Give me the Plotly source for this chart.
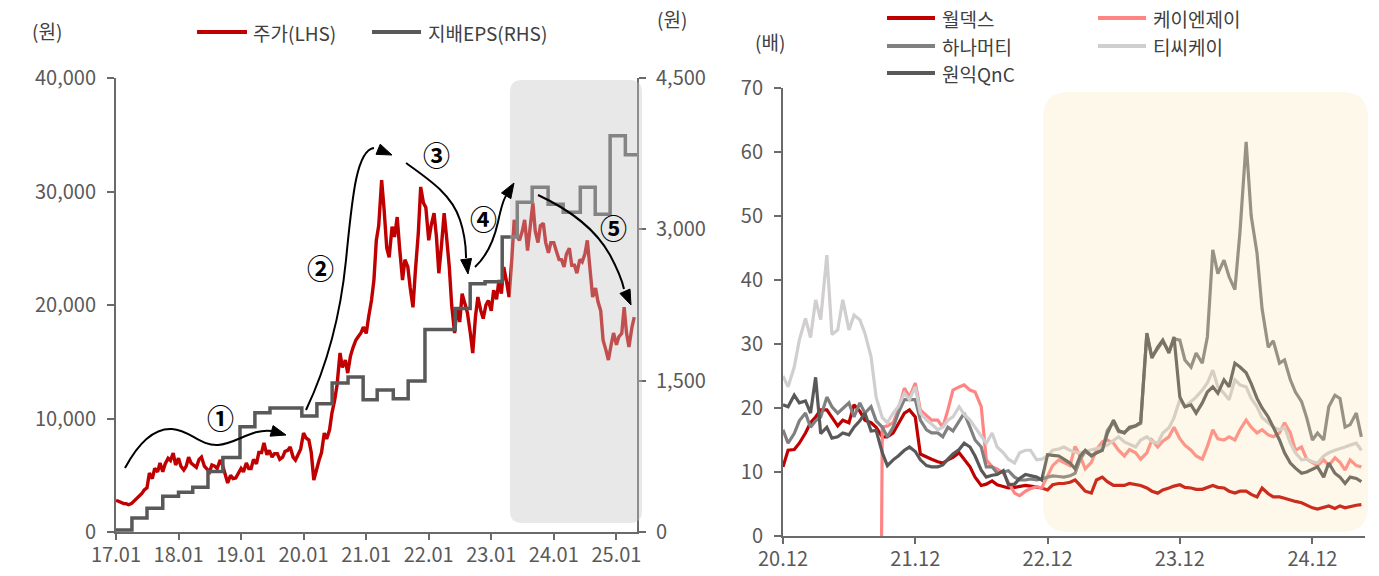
import pandas as pd
import plotly.graph_objects as go

W, H = 1379, 576
FONT = "Noto Sans CJK KR"
AXIS_GRAY = "#6a6a6a"
TEXT_GRAY = "#595959"

# ---------------- left panel: share price (LHS) and controlling EPS (RHS) ----------------
# semi-monthly closes, KRW, from 2017-01 to 2025-04
price = [
    2800, 2700, 2600, 2500, 2500, 2400, 2500, 2700, 2900, 3100, 3400, 3700,
    3900, 5200, 4700, 5600, 5300, 6080, 5300, 6000, 6500, 6300, 6960, 5900,
    6500, 5800, 5460, 5800, 6600, 6080, 5900, 5700, 6400, 6600, 5800, 5600,
    5290, 5900, 5800, 5600, 6340, 5900, 5100, 4320, 5000, 4700, 4760, 5200,
    5600, 5300, 6080, 5600, 5600, 6400, 6000, 7000, 7000, 7840, 6800, 7200,
    6600, 6900, 6900, 6400, 6600, 7100, 7200, 7490, 6600, 6340, 6800, 7300,
    8720, 8300, 8100, 7000, 4580, 5500, 6340, 7000, 8720, 8200, 9000, 10500,
    11630, 13000, 15770, 14500, 15150, 14000, 15500, 16200, 16900, 17200, 17530, 18060,
    17500, 18940, 20440, 22200, 25700, 27000, 31000, 28500, 25000, 24200, 26900, 26000,
    27750, 25000, 22200, 24000, 23350, 21500, 19800, 23000, 26300, 30400, 29000, 28600,
    25700, 27000, 28100, 26000, 22800, 25000, 28100, 26000, 23350, 20000, 17530, 19800,
    18500, 21000, 20000, 19300, 17500, 15770, 19000, 20700, 19500, 18800, 20000, 20400,
    19500, 21300, 20500, 22200, 21000, 23350, 22000, 20700, 24000, 27500, 26000, 25700,
    26500, 27500, 24800, 27000, 29000, 26500, 25500, 27000, 27200, 25500, 24600, 25500,
    25500, 24800, 24000, 24000, 23350, 24500, 25000, 23500, 23500, 22800, 24000, 23800,
    24500, 25700, 23000, 20700, 21500, 20300, 19500, 16900, 16000, 15150, 16500, 17530,
    16500, 17200, 17500, 19800, 17500, 16300, 18000, 18940,
]
price_dates = pd.date_range("2017-01-01", periods=len(price), freq="SMS")

# controlling-interest EPS (KRW), value in force from each date onward
eps_dates = [
    "2017-01-01", "2017-04-04", "2017-07-01", "2017-10-01", "2018-01-01", "2018-03-25",
    "2018-06-22", "2018-09-17", "2018-12-26", "2019-03-23", "2019-06-19", "2019-12-22",
    "2020-03-19", "2020-06-16", "2020-09-17", "2020-12-14", "2021-03-06", "2021-06-08",
    "2021-09-03", "2021-12-10", "2022-06-05", "2022-08-31", "2022-11-26", "2023-03-06",
    "2023-06-02", "2023-08-28", "2023-11-29", "2024-02-25", "2024-06-04", "2024-08-30",
    "2024-11-25", "2025-02-22", "2025-05-01",
]
eps = [
    20, 138, 236, 354, 394, 443, 600, 738, 1043, 1181, 1230, 1151,
    1270, 1477, 1536, 1310, 1408, 1320, 1497, 2008, 2215, 2461, 2480, 2924,
    3268, 3416, 3248, 3170, 3416, 3150, 3928, 3740, 3740,
]

left_ticks = [f"{y}-01-01" for y in range(2017, 2026)]
left_ticktext = ["17.01", "18.01", "19.01", "20.01", "21.01", "22.01", "23.01", "24.01", "25.01"]

# ---------------- right panel: P/E multiples (배), semi-monthly ----------------
per_dates = pd.date_range("2020-12-01", periods=106, freq="SMS")

worldex = [
    10.8, 13.4, 13.5, 14.5, 16.1, 17.7, 18.6, 19.7, 19.7, 18.6,
    17.2, 18.1, 17.7, 20.5, 19.5, 18.1, 17.7, 17, 15.5, 15.5,
    16.1, 17.5, 19.2, 19.7, 18.6, 12.8, 12.3, 12.0, 11.6, 11.4,
    11.9, 12.3, 13.0, 11.9, 10.8, 9.2, 7.9, 8.1, 8.6, 8.0,
    7.7, 7.5, 7.6, 7.8, 7.9, 7.8, 7.7, 7.5, 7.2, 8.0,
    8.2, 8.2, 8.4, 8.75, 7.9, 7.0, 6.7, 8.75, 9.2, 8.5,
    7.9, 7.9, 7.9, 8.2, 8.1, 7.9, 7.5, 7.0, 6.7, 7.2,
    7.5, 7.8, 8.0, 7.6, 7.5, 7.3, 7.3, 7.6, 7.9, 7.6,
    7.5, 7.0, 6.7, 7.0, 7.0, 6.5, 6.1, 7.5, 6.6, 6.1,
    6.1, 5.9, 5.6, 5.4, 5.2, 4.8, 4.4, 4.2, 4.5, 4.7,
    4.3, 4.7, 4.4, 4.6, 4.8, 4.9,
]

# KNJ starts trading later; first print recorded as 0
knj_start = "2021-08-30"
knj = [
    17.0, 17.2, 17.7, 19.7, 23.1, 21.7, 23.9, 19.7, 18.8, 18.1,
    18.1, 17, 19.7, 22.8, 23.3, 23.6, 22.8, 22.5, 20.2, 11.9,
    10.8, 10.5, 9.8, 8.5, 6.7, 6.3, 7.0, 7.4, 7.7, 7.5,
    9.5, 11.0, 11.9, 11.5, 11.0, 14.0, 12.5, 10.5, 11.5, 13.5,
    14.7, 15.0, 14.5, 13.4, 12.5, 13.5, 13.0, 12.0, 13.0, 15,
    13.9, 14.8, 15.5, 17.0, 15.2, 14.2, 13.4, 12.5, 12.0, 14.0,
    16.6, 15.2, 15.0, 15.5, 15.0, 16.6, 18.1, 17.0, 16.1, 16.6,
    15.8, 15.5, 16.1, 17.7, 16.1, 13.4, 13.9, 12.0, 11.4, 11.0,
    11.9, 11.0, 12.2, 11.5, 10.3, 11.9, 11.0, 10.8,
]

hana = [
    16.6, 14.5, 16.0, 18.0, 19.2, 17, 18.0, 18.6, 21.7, 20.2,
    19.2, 20.0, 20.8, 18.6, 20.8, 19.2, 20.2, 18.0, 17.0, 15.5,
    17, 19.2, 21.3, 21.3, 21.3, 18.1, 16.6, 16.1, 16.1, 15.5,
    17, 16.4, 18.0, 19.2, 17, 15.0, 13.9, 10.8, 10.8, 9.8,
    10.0, 10.2, 9.2, 8.75, 8.75, 8.9, 8.75, 8.9, 9.2, 9.4,
    9.3, 9.2, 9.4, 9.8, 12.0, 13.2, 12.6, 13.0, 13.4, 16.5,
    17.8, 16.3, 16.2, 16.8, 17.2, 17.6, 31.5, 28.0, 29.3, 30.4,
    28.8, 30.8, 30.6, 27.5, 26.4, 28.6, 27, 31.1, 44.7, 41,
    43.1, 40.5, 38.5, 47.5, 61.6, 50, 44.2, 35.5, 29.5, 30.5,
    27, 27.5, 24.4, 22.5, 21, 18.5, 15, 16.1, 15, 20.2,
    22, 21.5, 17, 17.4, 19.2, 15.5,
]

tck = [
    25, 23.3, 26.4, 30.6, 34, 31, 36.9, 33.8, 43.9, 31.5,
    32.2, 36.9, 32.2, 34.5, 33.8, 31.7, 28, 21.7, 18.5, 17.7,
    19.2, 20.2, 22.3, 21.3, 23.3, 19.2, 18.1, 17.5, 16.6, 17.0,
    18.1, 18.6, 20.2, 19, 18.1, 17, 15.5, 14.5, 16.1, 13.9,
    13, 12.0, 11.4, 13, 13.4, 13.4, 11.9, 12.0, 12.5, 13.4,
    13.6, 13.9, 13.4, 13.1, 13.0, 13.2, 13.4, 13.6, 13.9, 14.2,
    15.0, 15.5, 14.7, 14.3, 13.9, 15.0, 15.5, 14.8, 14.5, 16.1,
    16.9, 18.5, 21.3, 20.2, 21.0, 21.7, 22.8, 23.9, 25.9, 23.3,
    22.3, 21.3, 24.4, 23.6, 23.3, 21.5, 20.2, 18.5, 17.7, 17.0,
    16.6, 17.0, 14.5, 13.0, 11.9, 12.0, 11.6, 11.4, 12.5, 13.0,
    13.4, 13.6, 13.9, 14.2, 14.5, 13.4,
]

qnc = [
    20.5, 20.2, 22.0, 20.8, 21.1, 19.2, 24.8, 16, 17, 15.3,
    15.5, 16.1, 15.8, 17, 18.0, 19.2, 16.4, 16.5, 13, 11,
    11.9, 12.5, 13.4, 13.9, 13.2, 11.9, 11.0, 10.8, 10.8, 11.1,
    12.0, 12.8, 13.5, 14.5, 13.9, 12.5, 10.3, 9.2, 9.5, 9.6,
    10.2, 8.0, 8.1, 9.0, 9.6, 9.4, 9.2, 8.75, 12.7, 12.6,
    12.5, 12.0, 11.4, 10.5, 12.5, 13.4, 12.5, 13.0, 13.4, 16.0,
    18.1, 16.5, 16.1, 17.0, 17.2, 17.8, 31.7, 27.8, 29.5, 30.6,
    28.6, 31.1, 21.7, 20.2, 20.5, 19.2, 20.8, 22.5, 23.3, 22.3,
    24.4, 23.3, 27.0, 26.4, 25.5, 23.8, 21.5, 20.0, 18.6, 17,
    15, 13, 11.4, 10.6, 9.8, 10.0, 10.4, 10.8, 9.2, 11.4,
    9.8, 9.2, 8.2, 9.2, 9.0, 8.5,
]

right_ticks = [f"{y}-12-01" for y in range(2020, 2025)]
right_ticktext = ["20.12", "21.12", "22.12", "23.12", "24.12"]

C_PRICE = "#C00000"
C_EPS = "#595959"
C_WORLDEX = "#C00000"
C_KNJ = "#FF8585"
C_HANA = "#808080"
C_TCK = "#D0CECE"
C_QNC = "#595959"

# ---------------- helpers (pixel -> paper) ----------------
def px(x, y):
    return x / W, 1 - y / H


def path_px(cmds):
    out = []
    for letter, pts in cmds:
        coords = " ".join("{:.5f},{:.5f}".format(*px(x, y)) for x, y in pts)
        out.append(f"{letter} {coords}" if coords else letter)
    return " ".join(out)


def rounded_rect(x0, y0, x1, y1, r):
    return path_px([
        ("M", [(x0 + r, y0)]), ("L", [(x1 - r, y0)]), ("Q", [(x1, y0), (x1, y0 + r)]),
        ("L", [(x1, y1 - r)]), ("Q", [(x1, y1), (x1 - r, y1)]),
        ("L", [(x0 + r, y1)]), ("Q", [(x0, y1), (x0, y1 - r)]),
        ("L", [(x0, y0 + r)]), ("Q", [(x0, y0), (x0 + r, y0)]), ("Z", []),
    ])


def arrow_head(tip, frm, length=15, half=5.5):
    dx, dy = tip[0] - frm[0], tip[1] - frm[1]
    n = (dx * dx + dy * dy) ** 0.5
    ux, uy = dx / n, dy / n
    bx, by = tip[0] - ux * length, tip[1] - uy * length
    p1 = (bx - uy * half, by + ux * half)
    p2 = (bx + uy * half, by - ux * half)
    return path_px([("M", [tip]), ("L", [p1]), ("L", [p2]), ("Z", [])])


fig = go.Figure()

# left panel traces
fig.add_trace(go.Scatter(x=price_dates, y=price, mode="lines", name="주가(LHS)",
                         line=dict(color=C_PRICE, width=3.4), xaxis="x", yaxis="y",
                         showlegend=False))
fig.add_trace(go.Scatter(x=eps_dates, y=eps, mode="lines", name="지배EPS(RHS)",
                         line=dict(color=C_EPS, width=3.5, shape="hv"), xaxis="x", yaxis="y2",
                         showlegend=False))

# right panel traces
fig.add_trace(go.Scatter(x=per_dates, y=worldex, mode="lines", name="월덱스",
                         line=dict(color=C_WORLDEX, width=3.2), xaxis="x2", yaxis="y3", showlegend=False))
fig.add_trace(go.Scatter(x=[pd.Timestamp(knj_start)] + list(per_dates[18:]), y=[0] + knj,
                         mode="lines", name="케이엔제이",
                         line=dict(color=C_KNJ, width=3.2), xaxis="x2", yaxis="y3", showlegend=False))
fig.add_trace(go.Scatter(x=per_dates, y=hana, mode="lines", name="하나머티",
                         line=dict(color=C_HANA, width=3.2), xaxis="x2", yaxis="y3", showlegend=False))
fig.add_trace(go.Scatter(x=per_dates, y=tck, mode="lines", name="티씨케이",
                         line=dict(color=C_TCK, width=3.2), xaxis="x2", yaxis="y3", showlegend=False))
fig.add_trace(go.Scatter(x=per_dates, y=qnc, mode="lines", name="원익QnC",
                         line=dict(color=C_QNC, width=3.2), xaxis="x2", yaxis="y3", showlegend=False))

axis_common = dict(showline=True, linecolor=AXIS_GRAY, linewidth=2, ticks="outside",
                   tickwidth=2, tickcolor=AXIS_GRAY, showgrid=False,
                   zeroline=False, automargin=False, fixedrange=True,
                   tickfont=dict(family=FONT, size=20, color=TEXT_GRAY))

fig.update_layout(
    width=W, height=H, margin=dict(l=0, r=0, t=0, b=0),
    paper_bgcolor="white", plot_bgcolor="rgba(0,0,0,0)",
    font=dict(family=FONT, color=TEXT_GRAY),
    xaxis=dict(domain=[116 / W, 637 / W], anchor="y", type="date",
               range=["2017-01-01", "2025-05-01"], tickvals=left_ticks,
               ticktext=left_ticktext, ticklen=6, ticklabelstandoff=-2, **axis_common),
    yaxis=dict(domain=[44 / H, 498 / H], anchor="x", range=[0, 40000],
               tickvals=[0, 10000, 20000, 30000, 40000], tickformat=",",
               ticklen=7, ticklabelstandoff=7, **axis_common),
    yaxis2=dict(overlaying="y", side="right", anchor="x", range=[0, 4500],
                tickvals=[0, 1500, 3000, 4500], tickformat=",",
                ticklen=7, ticklabelstandoff=6, **axis_common),
    xaxis2=dict(domain=[783 / W, 1365 / W], anchor="y3", type="date",
                range=["2020-12-01", "2025-04-25"], tickvals=right_ticks,
                ticktext=right_ticktext, ticklen=6, ticklabelstandoff=-2, **axis_common),
    yaxis3=dict(domain=[40 / H, 488 / H], anchor="x2", range=[0, 70],
                tickvals=list(range(0, 71, 10)), ticklen=7, ticklabelstandoff=7,
                **axis_common),
)

shapes = []
# highlighted periods (translucent overlays drawn above the lines)
shapes.append(dict(type="path", xref="paper", yref="paper", layer="above",
                   path=rounded_rect(510, 80, 642, 523, 12),
                   fillcolor="rgb(198,198,198)", opacity=0.4, line=dict(width=0)))
shapes.append(dict(type="path", xref="paper", yref="paper", layer="above",
                   path=rounded_rect(1043, 92, 1368, 532, 26),
                   fillcolor="rgb(245,220,150)", opacity=0.2, line=dict(width=0)))

# curved arrows describing the phases
curves = [
    ([("M", [(125, 468)]), ("C", [(140, 440), (155, 428), (172, 429)]),
      ("C", [(190, 430), (200, 446), (218, 445)]), ("C", [(236, 444), (252, 428), (272, 431)])],
     (286, 435), (272, 431)),
    ([("M", [(306, 410)]), ("C", [(325, 370), (340, 320), (346, 260)]),
      ("C", [(352, 200), (356, 150), (374, 148)])],
     (392, 155), (375, 148)),
    ([("M", [(406, 163)]), ("C", [(430, 180), (452, 195), (460, 220)]),
      ("C", [(465, 235), (466, 250), (466, 258)])],
     (468, 274), (466, 258)),
    ([("M", [(475, 267)]), ("C", [(488, 255), (494, 240), (498, 222)]),
      ("C", [(501, 208), (503, 200), (506, 196)])],
     (514, 183), (506, 196)),
    ([("M", [(538, 195)]), ("C", [(570, 210), (595, 228), (610, 255)]),
      ("C", [(618, 270), (622, 280), (624, 289)])],
     (631, 305), (624, 289)),
]
for cmds, tip, frm in curves:
    shapes.append(dict(type="path", xref="paper", yref="paper", layer="above",
                       path=path_px(cmds), line=dict(color="black", width=2),
                       fillcolor="rgba(0,0,0,0)"))
    shapes.append(dict(type="path", xref="paper", yref="paper", layer="above",
                       path=arrow_head(tip, frm), fillcolor="black",
                       line=dict(color="black", width=1)))

# legend keys
def key_line(x0, x1, y, color):
    (a, b), (c, _) = px(x0, y), px(x1, y)
    return dict(type="line", xref="paper", yref="paper", x0=a, x1=c, y0=b, y1=b,
                line=dict(color=color, width=4), layer="above")

legend_left = [(197, 247, 32, C_PRICE, 251, "주가(LHS)"),
               (372, 421, 32, C_EPS, 426, "지배EPS(RHS)")]
legend_right = [(887, 935, 18, C_WORLDEX, 940, "월덱스"),
                (1098, 1146, 18, C_KNJ, 1151, "케이엔제이"),
                (887, 935, 46, C_HANA, 940, "하나머티"),
                (1098, 1146, 46, C_TCK, 1151, "티씨케이"),
                (887, 935, 73, C_QNC, 940, "원익QnC")]

annotations = []
for x0, x1, y, color, tx, label in legend_left + legend_right:
    shapes.append(key_line(x0, x1, y, color))
    ax, ay = px(tx, y)
    annotations.append(dict(x=ax, y=ay, xref="paper", yref="paper", text=label,
                            showarrow=False, xanchor="left", yanchor="middle",
                            font=dict(family=FONT, size=19, color="#404040")))

# unit labels
for x, y, t in [(47, 30, "(원)"), (672, 18, "(원)"), (770, 42, "(배)")]:
    ax, ay = px(x, y)
    annotations.append(dict(x=ax, y=ay, xref="paper", yref="paper", text=t,
                            showarrow=False, xanchor="center", yanchor="middle",
                            font=dict(family=FONT, size=19, color="#404040")))

# phase numbers
for x, y, t in [(220, 417, "①"), (320, 267, "②"), (437, 154, "③"),
                (483, 219, "④"), (613, 228, "⑤")]:
    ax, ay = px(x, y)
    annotations.append(dict(x=ax, y=ay, xref="paper", yref="paper", text=t,
                            showarrow=False, xanchor="center", yanchor="middle",
                            font=dict(family=FONT, size=27, color="black",
                                      weight="bold")))

fig.update_layout(shapes=shapes, annotations=annotations)
fig.write_html("out.html")
